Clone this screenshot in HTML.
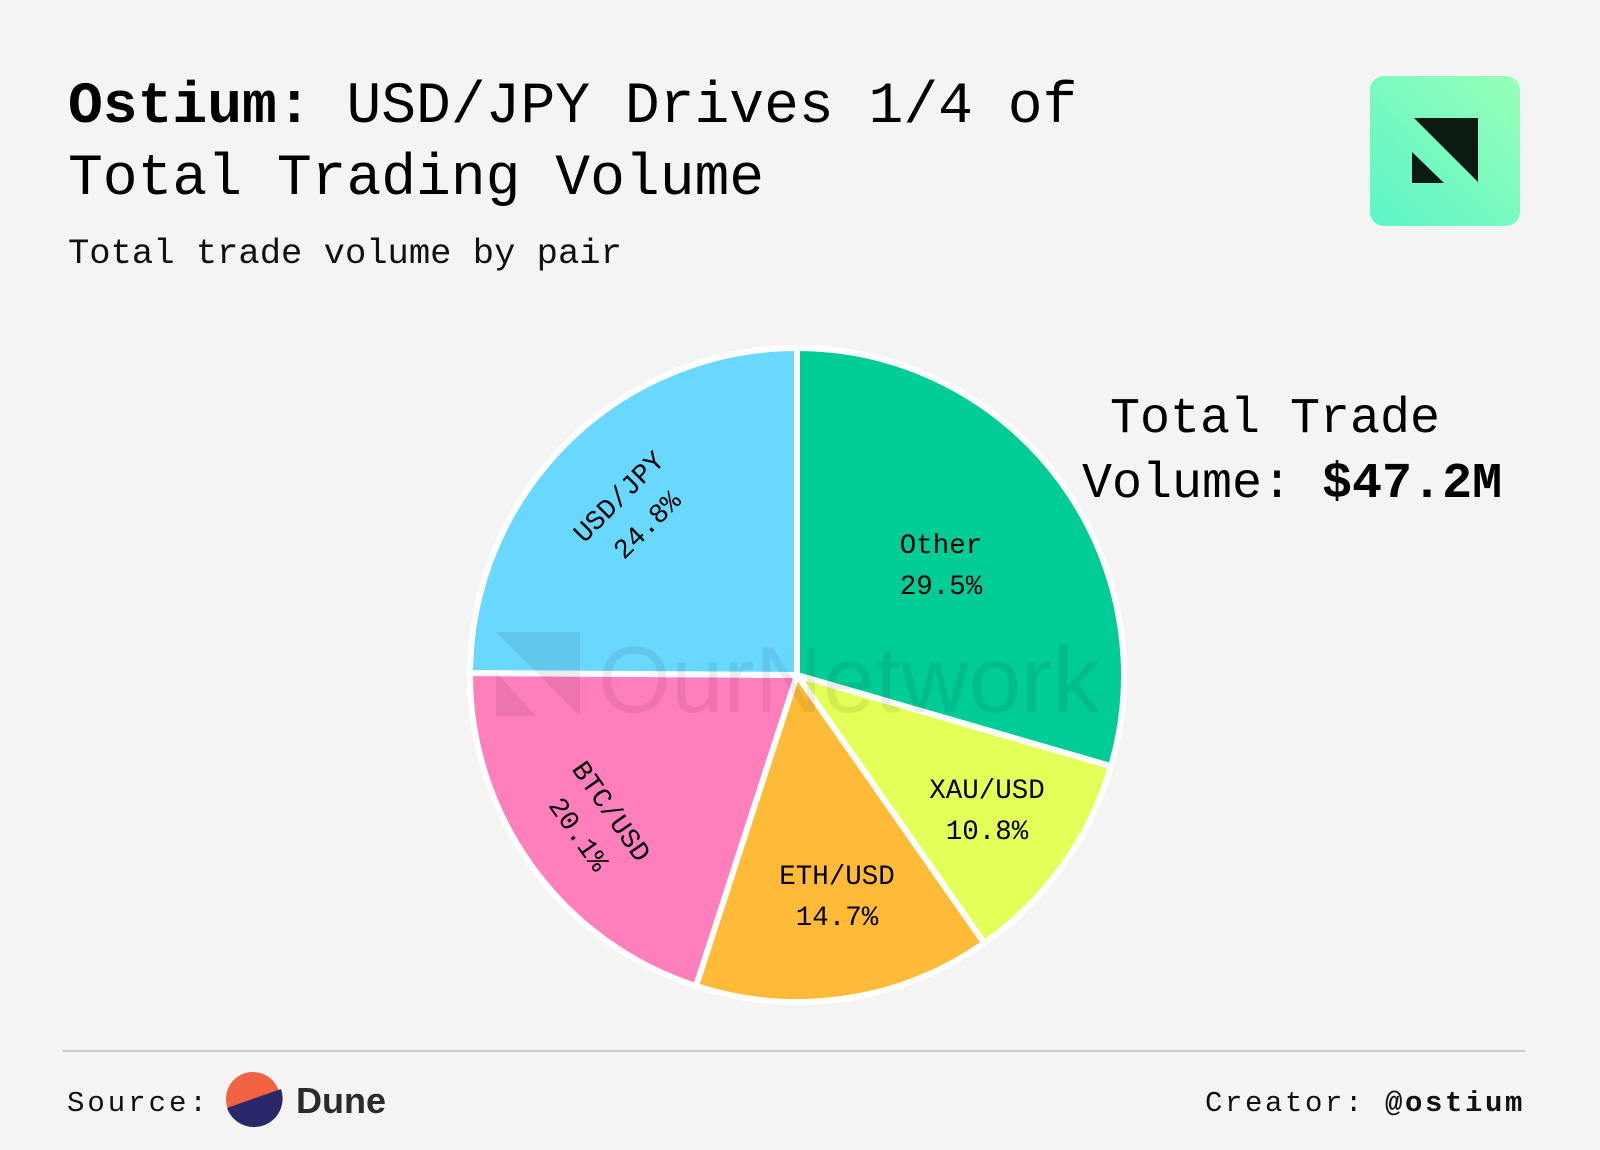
<!DOCTYPE html>
<html><head><meta charset="utf-8"><style>
html,body{margin:0;padding:0;background:#f4f4f4;}
svg{display:block;}
.m{font-family:"Liberation Mono","DejaVu Sans Mono",monospace;}
</style></head><body>
<svg width="1600" height="1150" viewBox="0 0 1600 1150" xmlns="http://www.w3.org/2000/svg">
<defs>
<linearGradient id="g" x1="1" y1="0" x2="0" y2="1">
<stop offset="0" stop-color="#98ffb8"/><stop offset="1" stop-color="#5cf5c8"/>
</linearGradient>
</defs>
<rect width="1600" height="1150" fill="#f4f4f4"/>
<text class="m" x="68" y="122" font-size="58" fill="#000"><tspan font-weight="bold">Ostium:</tspan> USD/JPY Drives 1/4 of</text>
<text class="m" x="68" y="194" font-size="58" fill="#000">Total Trading Volume</text>
<text class="m" x="68" y="263" font-size="35.5" fill="#111">Total trade volume by pair</text>
<rect x="1370" y="76" width="150" height="150" rx="14" fill="url(#g)"/>
<polygon points="1414,118 1478,118 1478,182" fill="#0c1a12"/>
<polygon points="1412,152 1412,183 1444,183" fill="#0c1a12"/>
<circle cx="797" cy="675" r="330" fill="#fff"/>
<g stroke="#fff" stroke-width="6" stroke-linejoin="round">
<path d="M797,675 L797,348 A327,327 0 0 1 1111,766.2 Z" fill="#00cc96"/>
<path d="M797,675 L1111,766.2 A327,327 0 0 1 984.2,943.1 Z" fill="#e4ff57"/>
<path d="M797,675 L984.2,943.1 A327,327 0 0 1 696,986 Z" fill="#ffbb38"/>
<path d="M797,675 L696,986 A327,327 0 0 1 470,673 Z" fill="#ff7fbd"/>
<path d="M797,675 L470,673 A327,327 0 0 1 797,348 Z" fill="#69d8ff"/>
</g>
<g opacity="0.07" fill="#000">
<polygon points="496,632 580,632 580,716"/>
<polygon points="496,672 496,716 536,716"/>
<text x="598" y="712" font-family="Liberation Sans, sans-serif" font-size="94">OurNetwork</text>
</g>
<g class="m" font-size="27.5" fill="#000" text-anchor="middle">
<text x="941" y="553">Other</text><text x="941" y="594">29.5%</text>
<text x="987" y="798">XAU/USD</text><text x="987" y="839">10.8%</text>
<text x="837" y="884">ETH/USD</text><text x="837" y="925">14.7%</text>
<g transform="translate(632,510) rotate(-45)"><text x="0" y="-10">USD/JPY</text><text x="0" y="30">24.8%</text></g>
<g transform="translate(596,822) rotate(55)"><text x="0" y="-10">BTC/USD</text><text x="0" y="30">20.1%</text></g>
</g>
<text class="m" x="1110" y="432" font-size="50" fill="#000">Total Trade</text>
<text class="m" x="1082" y="497" font-size="50" fill="#000">Volume: <tspan font-weight="bold">$47.2M</tspan></text>
<line x1="62" y1="1051" x2="1525" y2="1051" stroke="#d0cccc" stroke-width="2"/>
<text class="m" x="67" y="1111" font-size="29" letter-spacing="3" fill="#111">Source:</text>
<ellipse cx="253" cy="1099" rx="27" ry="27" fill="#f06240"/>
<path d="M227,1108 L281,1089 A27,27 0 0 1 227,1108 Z" fill="#2a276b"/>
<text x="296" y="1113" font-family="Liberation Sans, sans-serif" font-weight="bold" font-size="36" fill="#2b2b2b">Dune</text>
<text class="m" x="1525" y="1111" font-size="29" letter-spacing="2.6" text-anchor="end" fill="#111">Creator: <tspan font-weight="bold">@ostium</tspan></text>
</svg>
</body></html>
